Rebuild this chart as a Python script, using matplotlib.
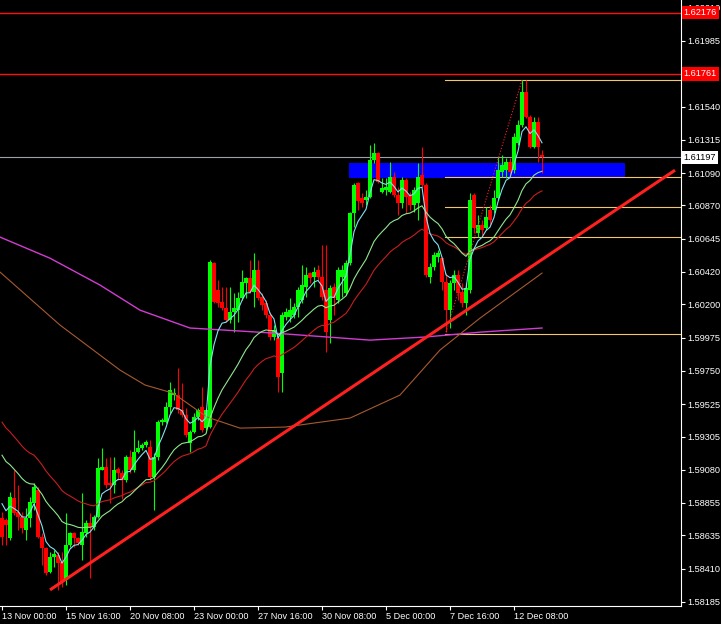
import matplotlib
matplotlib.use("Agg")
import matplotlib.pyplot as plt
from matplotlib.patches import Rectangle

plt.rcParams['font.family'] = ['Liberation Sans', 'DejaVu Sans']

# GBPUSD H4, 136 barras
opens = [
    1.58754, 1.58740, 1.58618, 1.58889, 1.58794, 1.58760, 1.58672, 1.58754, 1.58855, 1.58943,
    1.58624, 1.58550, 1.58388, 1.58489, 1.58503, 1.58455, 1.58334, 1.58570, 1.58652, 1.58618,
    1.58570, 1.58652, 1.58720, 1.58692, 1.58760, 1.59078, 1.59099, 1.58990, 1.58977, 1.59085,
    1.59058, 1.59010, 1.59166, 1.59078, 1.59200, 1.59227, 1.59247, 1.59234, 1.59031, 1.59166,
    1.59403, 1.59403, 1.59504, 1.59586, 1.59586, 1.59484, 1.59450, 1.59261, 1.59335, 1.59437,
    1.59504, 1.59362, 1.59369, 1.60480, 1.60297, 1.60215, 1.60175, 1.60094, 1.60148, 1.60161,
    1.60242, 1.60344, 1.60378, 1.60283, 1.60432, 1.60249, 1.60209, 1.60128, 1.59978, 1.59972,
    1.59735, 1.60114, 1.60114, 1.60128, 1.60181, 1.60229, 1.60317, 1.60412, 1.60385, 1.60432,
    1.60385, 1.60297, 1.60094, 1.60317, 1.60229, 1.60385, 1.60277, 1.60480, 1.60818, 1.61021,
    1.60920, 1.60906, 1.60927, 1.61177, 1.61224, 1.60961, 1.60974, 1.60961, 1.61062, 1.60940,
    1.60886, 1.61041, 1.60940, 1.60872, 1.60886, 1.61075, 1.61008, 1.60385, 1.60452, 1.60520,
    1.60514, 1.60351, 1.60161, 1.60344, 1.60398, 1.60283, 1.60209, 1.60297, 1.60940, 1.60683,
    1.60737, 1.60717, 1.60838, 1.60838, 1.60920, 1.61096, 1.61109, 1.61164, 1.61109, 1.61292,
    1.61414, 1.61637, 1.61468, 1.61265, 1.61434, 1.61211]
highs = [
    1.58794, 1.58754, 1.58929, 1.59078, 1.58977, 1.58794, 1.58821, 1.58895, 1.58990, 1.58963,
    1.58652, 1.58557, 1.58523, 1.58537, 1.58523, 1.58523, 1.58787, 1.58659, 1.58659, 1.58624,
    1.58922, 1.58740, 1.58787, 1.58774, 1.59160, 1.59227, 1.59160, 1.59166, 1.59166, 1.59099,
    1.59078, 1.59180, 1.59214, 1.59349, 1.59281, 1.59261, 1.59281, 1.59281, 1.59193, 1.59417,
    1.59430, 1.59538, 1.59673, 1.59633, 1.59769, 1.59667, 1.59498, 1.59349, 1.59464, 1.59498,
    1.59640, 1.59498, 1.60500, 1.60486, 1.60364, 1.60317, 1.60317, 1.60317, 1.60277, 1.60283,
    1.60432, 1.60385, 1.60500, 1.60547, 1.60500, 1.60277, 1.60229, 1.60148, 1.60060, 1.60005,
    1.60148, 1.60175, 1.60242, 1.60209, 1.60317, 1.60466, 1.60452, 1.60418, 1.60452, 1.60466,
    1.60601, 1.60601, 1.60331, 1.60344, 1.60452, 1.60466, 1.60500, 1.60825, 1.61021, 1.61028,
    1.60954, 1.60974, 1.61278, 1.61292, 1.61231, 1.61055, 1.61055, 1.61164, 1.61096, 1.60994,
    1.61062, 1.61055, 1.60961, 1.60994, 1.61157, 1.61265, 1.61021, 1.60480, 1.60554, 1.60568,
    1.60520, 1.60412, 1.60364, 1.60432, 1.60432, 1.60344, 1.60344, 1.60954, 1.60954, 1.60804,
    1.60771, 1.60858, 1.60872, 1.60974, 1.61197, 1.61211, 1.61191, 1.61191, 1.61359, 1.61448,
    1.61720, 1.61720, 1.61481, 1.61468, 1.61468, 1.61245]
lows = [
    1.58570, 1.58570, 1.58604, 1.58774, 1.58672, 1.58652, 1.58604, 1.58692, 1.58807, 1.58618,
    1.58435, 1.58367, 1.58381, 1.58421, 1.58266, 1.58286, 1.58300, 1.58557, 1.58557, 1.58570,
    1.58469, 1.58624, 1.58347, 1.58672, 1.58754, 1.59078, 1.58956, 1.58855, 1.58922, 1.59010,
    1.58882, 1.58997, 1.59058, 1.59065, 1.59193, 1.59214, 1.59234, 1.59010, 1.58807, 1.59146,
    1.59383, 1.59396, 1.59464, 1.59552, 1.59464, 1.59437, 1.59301, 1.59200, 1.59328, 1.59417,
    1.59335, 1.59349, 1.59362, 1.60209, 1.60181, 1.60161, 1.60080, 1.60073, 1.60012, 1.60080,
    1.60229, 1.60242, 1.60277, 1.60181, 1.60229, 1.60161, 1.60107, 1.59958, 1.59958, 1.59606,
    1.59606, 1.60094, 1.60080, 1.60107, 1.60114, 1.60209, 1.60249, 1.60344, 1.60317, 1.60364,
    1.60229, 1.59877, 1.59938, 1.60128, 1.60209, 1.60249, 1.60263, 1.60466, 1.60723, 1.60838,
    1.60858, 1.60872, 1.60920, 1.61157, 1.61021, 1.60954, 1.60940, 1.60954, 1.60927, 1.60804,
    1.60852, 1.60818, 1.60838, 1.60825, 1.60771, 1.60994, 1.60385, 1.60344, 1.60432, 1.60486,
    1.60297, 1.60012, 1.60039, 1.60297, 1.60229, 1.60181, 1.60128, 1.60277, 1.60683, 1.60655,
    1.60669, 1.60703, 1.60737, 1.60818, 1.60906, 1.61062, 1.61055, 1.61075, 1.61089, 1.61278,
    1.61400, 1.61461, 1.61258, 1.61258, 1.61164, 1.61089]
closes = [
    1.58624, 1.58706, 1.58895, 1.58787, 1.58760, 1.58686, 1.58754, 1.58862, 1.58963, 1.58624,
    1.58550, 1.58381, 1.58489, 1.58510, 1.58449, 1.58320, 1.58570, 1.58652, 1.58618, 1.58584,
    1.58659, 1.58720, 1.58692, 1.58760, 1.59092, 1.59099, 1.58977, 1.58977, 1.59078, 1.59058,
    1.59010, 1.59166, 1.59078, 1.59200, 1.59227, 1.59247, 1.59268, 1.59031, 1.59166, 1.59403,
    1.59417, 1.59504, 1.59620, 1.59599, 1.59484, 1.59450, 1.59315, 1.59335, 1.59437, 1.59484,
    1.59349, 1.59484, 1.60486, 1.60215, 1.60209, 1.60175, 1.60094, 1.60148, 1.60175, 1.60242,
    1.60351, 1.60378, 1.60283, 1.60432, 1.60242, 1.60195, 1.60128, 1.59978, 1.60026, 1.59708,
    1.60128, 1.60148, 1.60161, 1.60181, 1.60297, 1.60331, 1.60398, 1.60378, 1.60418, 1.60385,
    1.60249, 1.60012, 1.60310, 1.60242, 1.60432, 1.60432, 1.60480, 1.60818, 1.61008, 1.60899,
    1.60886, 1.60927, 1.61177, 1.61224, 1.61028, 1.60988, 1.60994, 1.61062, 1.60940, 1.60886,
    1.61041, 1.60927, 1.60872, 1.60974, 1.61062, 1.61008, 1.60398, 1.60452, 1.60534, 1.60547,
    1.60351, 1.60161, 1.60344, 1.60398, 1.60277, 1.60209, 1.60310, 1.60906, 1.60717, 1.60737,
    1.60703, 1.60791, 1.60771, 1.60920, 1.61109, 1.61143, 1.61164, 1.61096, 1.61332, 1.61414,
    1.61637, 1.61468, 1.61265, 1.61434, 1.61265, 1.61197]

# medias largas (barra, precio)
ma100_bars = [-0.5, 14.5, 29.5, 35.75, 42.75, 51.25, 59.5, 70.75, 87, 99.5, 109.5, 119.5, 135]
ma100_vals = [1.60419, 1.60060, 1.59755, 1.59654, 1.59599, 1.59437, 1.59362, 1.59369, 1.59430,
              1.59586, 1.59891, 1.60107, 1.60412]
ma200_bars = [-0.5, 12, 24.5, 34.5, 47, 67.75, 92, 105.75, 119.5, 135]
ma200_vals = [1.60656, 1.60513, 1.60331, 1.60161, 1.60040, 1.60006, 1.59958, 1.59979, 1.60012, 1.60040]

# valores iniciales de las EMAs en la barra 0
ema5_start, ema21_start, ema34_start = 1.58963, 1.59234, 1.59450

res_levels = [1.62176, 1.61761]
zone_bars = [86.75, 155.75]
zone_prices = [1.61055, 1.61157]
trend_bars = [12, 168.25]
trend_prices = [1.58266, 1.61109]
zigzag_bars = [111, 130]
zigzag_prices = [1.60012, 1.61720]
fib_start = 110.75
fib_low, fib_high = 1.59998, 1.61718
fib_levels = [0.0, 0.382, 0.5, 0.618, 1.0]

date_bars = [0, 16, 32, 48, 64, 80, 96, 112, 128]
date_labels = ['13 Nov 00:00', '15 Nov 16:00', '20 Nov 08:00', '23 Nov 00:00', '27 Nov 16:00',
               '30 Nov 08:00', '5 Dec 00:00', '7 Dec 16:00', '12 Dec 08:00']
price_ticks = [1.62210, 1.61985, 1.61540, 1.61315, 1.61090, 1.60870, 1.60645, 1.60420, 1.60200,
               1.59975, 1.59750, 1.59525, 1.59305, 1.59080, 1.58855, 1.58635, 1.58410, 1.58185]


def ema(values, period, start):
    k = 2.0 / (period + 1)
    out = []
    prev = start
    for v in values:
        prev = prev + k * (v - prev)
        out.append(prev)
    return out


n = len(closes)
bars = list(range(n))

fig = plt.figure(figsize=(7.21, 6.24), dpi=100, facecolor='black')
ax = fig.add_axes([0, 18 / 624, 681 / 721, 606 / 624], facecolor='black')
ax.set_xlim(-0.5, 169.75)
ax.set_ylim(1.58157, 1.62262)

# zona azul de fondo
ax.add_patch(Rectangle((zone_bars[0], zone_prices[0]), zone_bars[1] - zone_bars[0],
                       zone_prices[1] - zone_prices[0], facecolor='#0000ff', edgecolor='none', zorder=1))

# lineas horizontales
for lv in res_levels:
    ax.axhline(lv, color='#ff1010', lw=1.0, zorder=2)
ax.axhline(closes[-1], color='#9aa3ad', lw=0.8, zorder=2)
for f in fib_levels:
    ax.plot([fib_start, 169.75], [fib_high - f * (fib_high - fib_low)] * 2, color='#f2c866', lw=0.8, zorder=2)

# velas
for i in bars:
    col = '#00ff00' if closes[i] >= opens[i] else '#ff0000'
    ax.vlines(i, lows[i], highs[i], color=col, lw=0.8, zorder=3)
    lo = min(opens[i], closes[i])
    h = max(abs(closes[i] - opens[i]), 0.00004)
    ax.bar(i, h, bottom=lo, width=0.8, color=col, linewidth=0, zorder=3)

# medias moviles
ax.plot(ma200_bars, ma200_vals, color='#d23cd2', lw=1.0, zorder=4)
ax.plot(ma100_bars, ma100_vals, color='#a85a30', lw=0.8, zorder=4)
ax.plot(bars, ema(closes, 34, ema34_start), color='#c81e1e', lw=0.8, zorder=4)
ax.plot(bars, ema(closes, 21, ema21_start), color='#8ee88e', lw=0.8, zorder=4)
ax.plot(bars, ema(closes, 5, ema5_start), color='#7fe3f5', lw=0.8, zorder=4)

# lineas de tendencia
ax.plot(zigzag_bars, zigzag_prices, color='#ff2020', lw=0.8, ls=':', zorder=4)
ax.plot(trend_bars, trend_prices, color='#ff2020', lw=2.2, zorder=5, solid_capstyle='butt')

# ejes estilo MT4
for s in ['top', 'left']:
    ax.spines[s].set_visible(False)
for s in ['right', 'bottom']:
    ax.spines[s].set_color('white')
    ax.spines[s].set_linewidth(0.8)
ax.yaxis.tick_right()
ax.set_yticks(price_ticks)
ax.set_yticklabels(['%.5f' % t for t in price_ticks])
ax.tick_params(axis='y', colors='white', length=3, width=0.8, labelsize=6.6, pad=1.5)
ax.set_xticks(date_bars)
ax.set_xticklabels(date_labels, ha='left')
ax.tick_params(axis='x', colors='white', length=3, width=0.8, labelsize=6.6, pad=1)

# etiquetas de precio
tr = ax.get_yaxis_transform()
for lv in res_levels:
    ax.text(1.004, lv, '%.5f' % lv, transform=tr, va='center', ha='left', fontsize=6.6, color='white',
            bbox=dict(facecolor='#ff0000', edgecolor='none', pad=1.5), clip_on=False, zorder=10)
ax.text(1.004, closes[-1], '%.5f' % closes[-1], transform=tr, va='center', ha='left', fontsize=6.6,
        color='black', bbox=dict(facecolor='white', edgecolor='none', pad=1.5), clip_on=False, zorder=10)

fig.savefig('out.png', dpi=100, facecolor='black')
